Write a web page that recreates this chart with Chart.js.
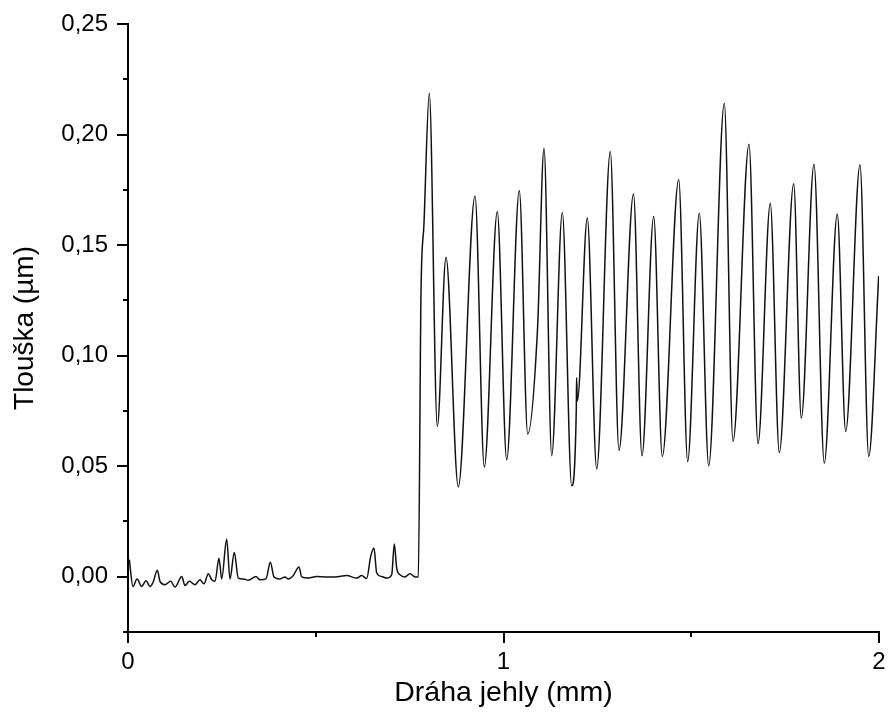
<!DOCTYPE html>
<html>
<head>
<meta charset="utf-8">
<script src="https://cdn.jsdelivr.net/npm/chart.js@4.4.1/dist/chart.umd.min.js"></script>
<style>
  html, body { margin: 0; padding: 0; background: #fff; }
  #wrap { width: 889px; height: 722px; position: relative; }
</style>
</head>
<body>
<div id="wrap"><canvas id="c" width="889" height="722"></canvas></div>
<script>
// Dráha jehly (mm)
const pathMm = [
  0.0035, 0.0133, 0.024, 0.0365, 0.048, 0.0586, 0.0666, 0.078, 0.0852, 0.0985,
  0.1137, 0.1252, 0.143, 0.1518, 0.1632, 0.1784, 0.1917, 0.2024, 0.2138, 0.2229,
  0.2317, 0.2423, 0.2495, 0.2628, 0.2716, 0.2831, 0.2937, 0.3071, 0.3204, 0.3409,
  0.3515, 0.3675, 0.379, 0.3888, 0.4048, 0.4181, 0.4269, 0.4402, 0.4554, 0.4626,
  0.4802, 0.5025, 0.5292, 0.5513, 0.5824, 0.609, 0.6224, 0.6357, 0.6463, 0.6551,
  0.6623, 0.6756, 0.6889, 0.7023, 0.7092, 0.7156, 0.7244, 0.7377, 0.751, 0.7643,
  0.7731, 0.7803, 0.7883, 0.8024, 0.8237, 0.8469, 0.8796, 0.9241, 0.9489, 0.9835,
  1.0085, 1.0421, 1.0645, 1.0905, 1.1079, 1.1284, 1.1566, 1.1816, 1.1939, 1.1946,
  1.1968, 1.2232, 1.2482, 1.2844, 1.3076, 1.3462, 1.3688, 1.4, 1.4229, 1.4666,
  1.4905, 1.5214, 1.5465, 1.588, 1.6112, 1.6538, 1.6778, 1.7105, 1.7345, 1.7728,
  1.7931, 1.8269, 1.8543, 1.8889, 1.9113, 1.9494, 1.9726, 1.9992
];
// Tlouška (µm)
const thickness = [
  0.0077, -0.0044, -0.0010, -0.0044, -0.0018, -0.0044, -0.0026, 0.0029, -0.0021, -0.0036,
  -0.0021, -0.0047, 0.0001, -0.0040, -0.0021, -0.0036, -0.0014, -0.0032, 0.0014, -0.0014,
  -0.0021, 0.0084, -0.0010, 0.0170, -0.0010, 0.0110, -0.0006, -0.0010, -0.0016, 0.0001,
  -0.0014, -0.0010, 0.0065, -0.0001, -0.0010, -0.0001, -0.0010, 0.0006, 0.0044, -0.0001,
  -0.0006, 0.0001, -0.0001, -0.0001, 0.0005, -0.0006, 0.0005, -0.0008, 0.0092, 0.0130,
  0.0017, 0.0001, -0.0006, 0.0009, 0.0148, 0.0039, 0.0009, -0.0001, 0.0014, -0.0001,
  0.0000, 0.1283, 0.1600, 0.2187, 0.0680, 0.1445, 0.0406, 0.1722, 0.0496, 0.1652,
  0.0529, 0.1747, 0.0646, 0.1117, 0.1938, 0.0547, 0.1647, 0.0411, 0.0762, 0.0900,
  0.0796, 0.1622, 0.0487, 0.1923, 0.0571, 0.1731, 0.0547, 0.1629, 0.0544, 0.1795,
  0.0521, 0.1644, 0.0502, 0.2141, 0.0612, 0.1956, 0.0601, 0.1689, 0.0562, 0.1777,
  0.0717, 0.1866, 0.0514, 0.1641, 0.0657, 0.1863, 0.0544, 0.1360
];
const xMajorTicks = [0, 1, 2];
const xMinorTicks = [0.5, 1.5];
const yMajorTicks = [0, 0.05, 0.10, 0.15, 0.20, 0.25];
const yMinorTicks = [-0.025, 0.025, 0.075, 0.125, 0.175, 0.225];
const xTitle = 'Dráha jehly (mm)';
const yTitle = 'Tlouška (µm)';

const FONT = '"Liberation Sans", Arial, Helvetica, sans-serif';

const points = pathMm.map((x, i) => ({ x: x, y: thickness[i] }));

const tickMarks = {
  id: 'tickMarks',
  afterDraw(chart) {
    const ctx = chart.ctx;
    const xs = chart.scales.x, ys = chart.scales.y;
    const left = chart.chartArea.left, bottom = chart.chartArea.bottom;
    ctx.save();
    ctx.strokeStyle = '#000';
    ctx.lineWidth = 2;
    ctx.beginPath();
    yMajorTicks.forEach(v => { const p = Math.round(ys.getPixelForValue(v)); ctx.moveTo(left - 11, p); ctx.lineTo(left, p); });
    yMinorTicks.forEach(v => { const p = Math.round(ys.getPixelForValue(v)); ctx.moveTo(left - 5, p); ctx.lineTo(left, p); });
    xMajorTicks.forEach(v => { const p = Math.round(xs.getPixelForValue(v)); ctx.moveTo(p, bottom); ctx.lineTo(p, bottom + 11); });
    xMinorTicks.forEach(v => { const p = Math.round(xs.getPixelForValue(v)); ctx.moveTo(p, bottom); ctx.lineTo(p, bottom + 5); });
    ctx.stroke();
    ctx.restore();
  }
};

new Chart(document.getElementById('c'), {
  type: 'line',
  data: {
    datasets: [{
      data: points,
      borderColor: '#111',
      borderWidth: 1.5,
      pointRadius: 0,
      fill: false,
      cubicInterpolationMode: 'monotone'
    }]
  },
  options: {
    responsive: false,
    animation: false,
    layout: { padding: { left: 0, top: 24, right: 10, bottom: 0 } },
    plugins: { legend: { display: false }, tooltip: { enabled: false } },
    scales: {
      x: {
        type: 'linear',
        min: 0, max: 2,
        grid: { display: false, drawTicks: false },
        border: { display: true, color: '#000', width: 2 },
        afterBuildTicks: s => { s.ticks = xMajorTicks.map(v => ({ value: v })); },
        afterFit: s => { s.height = 90; s.paddingLeft = 0; s.paddingRight = 0; },
        ticks: {
          color: '#000', padding: 16, maxRotation: 0, autoSkip: false,
          font: { family: FONT, size: 24 },
          callback: v => String(v)
        },
        title: {
          display: true, text: xTitle, color: '#000',
          font: { family: FONT, size: 28.5 },
          padding: { top: 0, bottom: 12 }
        }
      },
      y: {
        type: 'linear',
        min: -0.025, max: 0.25,
        grid: { display: false, drawTicks: false },
        border: { display: true, color: '#000', width: 2 },
        afterBuildTicks: s => { s.ticks = yMajorTicks.map(v => ({ value: v })); },
        afterFit: s => { s.width = 128; s.paddingTop = 0; s.paddingBottom = 0; },
        ticks: {
          color: '#000', padding: 20, autoSkip: false,
          font: { family: FONT, size: 24 },
          callback: v => v.toFixed(2).replace('.', ',')
        },
        title: {
          display: true, text: yTitle, color: '#000',
          font: { family: FONT, size: 28 },
          padding: { top: 8, bottom: 0 }
        }
      }
    }
  },
  plugins: [tickMarks]
});
</script>
</body>
</html>
